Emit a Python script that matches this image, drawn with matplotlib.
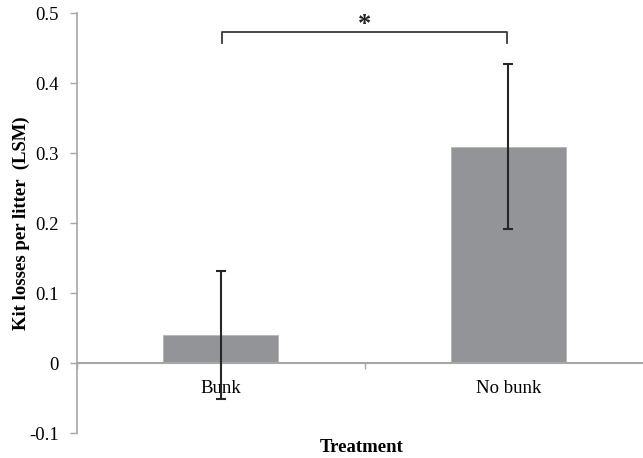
import matplotlib
matplotlib.use("Agg")
import matplotlib.pyplot as plt

categories = ["Bunk", "No bunk"]
means = [0.04, 0.309]
errors = [0.092, 0.118]
yticks = [-0.1, 0, 0.1, 0.2, 0.3, 0.4, 0.5]
ytick_labels = ["-0.1", "0", "0.1", "0.2", "0.3", "0.4", "0.5"]
sig_label = "*"

plt.rcParams['font.family'] = ['Liberation Serif', 'DejaVu Serif']

W, H = 643, 458
fig = plt.figure(figsize=(W / 100, H / 100), dpi=100)
left, right, top, bottom = 77, 652, 13, 433
ax = fig.add_axes([left / W, 1 - bottom / H, (right - left) / W, (bottom - top) / H])

x = [0.5, 1.5]
axis_col = "#a6a6a6"
ax.bar(x, means, width=0.40, color="#939498", edgecolor="#b5b5b8", linewidth=0.6, zorder=2)
ax.errorbar(x, means, yerr=errors, fmt="none", ecolor="#262626", elinewidth=1.5,
            capsize=3.5, capthick=1.5, zorder=4)

ax.set_xlim(0, 2)
ax.set_ylim(-0.1, 0.5)
ax.set_yticks(yticks)
ax.set_yticklabels(ytick_labels)
ax.set_xticks([0, 1, 2], minor=True)
ax.set_xticks(x)
ax.set_xticklabels(categories)
ax.tick_params(axis="x", which="major", length=0, pad=12, labelsize=13.5)
ax.tick_params(axis="x", which="minor", length=4, color=axis_col, width=1)
ax.tick_params(axis="y", length=5, color=axis_col, width=1, pad=8, labelsize=13.5)

for s in ["top", "right"]:
    ax.spines[s].set_visible(False)
ax.spines["bottom"].set_position(("data", 0))
ax.spines["bottom"].set_color(axis_col)
ax.spines["bottom"].set_linewidth(1.5)
ax.spines["bottom"].set_zorder(3)
ax.spines["left"].set_color(axis_col)
ax.spines["left"].set_linewidth(1.2)

ax.set_ylabel("Kit losses per litter  (LSM)", fontsize=13.5, fontweight="bold")
ax.yaxis.set_label_coords(-0.082, 0.5)
fig.text(362 / W, 1 - 448 / H, "Treatment", fontsize=13.5, fontweight="bold",
         ha="center", va="center")

# significance bracket
yb, yd = 0.473, 0.457
ax.plot([0.505, 0.505, 1.495, 1.495], [yd, yb, yb, yd], color="#3a3a3a", lw=1.3,
        clip_on=False, zorder=5)
ax.text(1.0, 0.484, sig_label, ha="center", va="center", fontsize=19,
        fontweight="bold", color="#222222", clip_on=False)

fig.savefig("out.png", dpi=100)
